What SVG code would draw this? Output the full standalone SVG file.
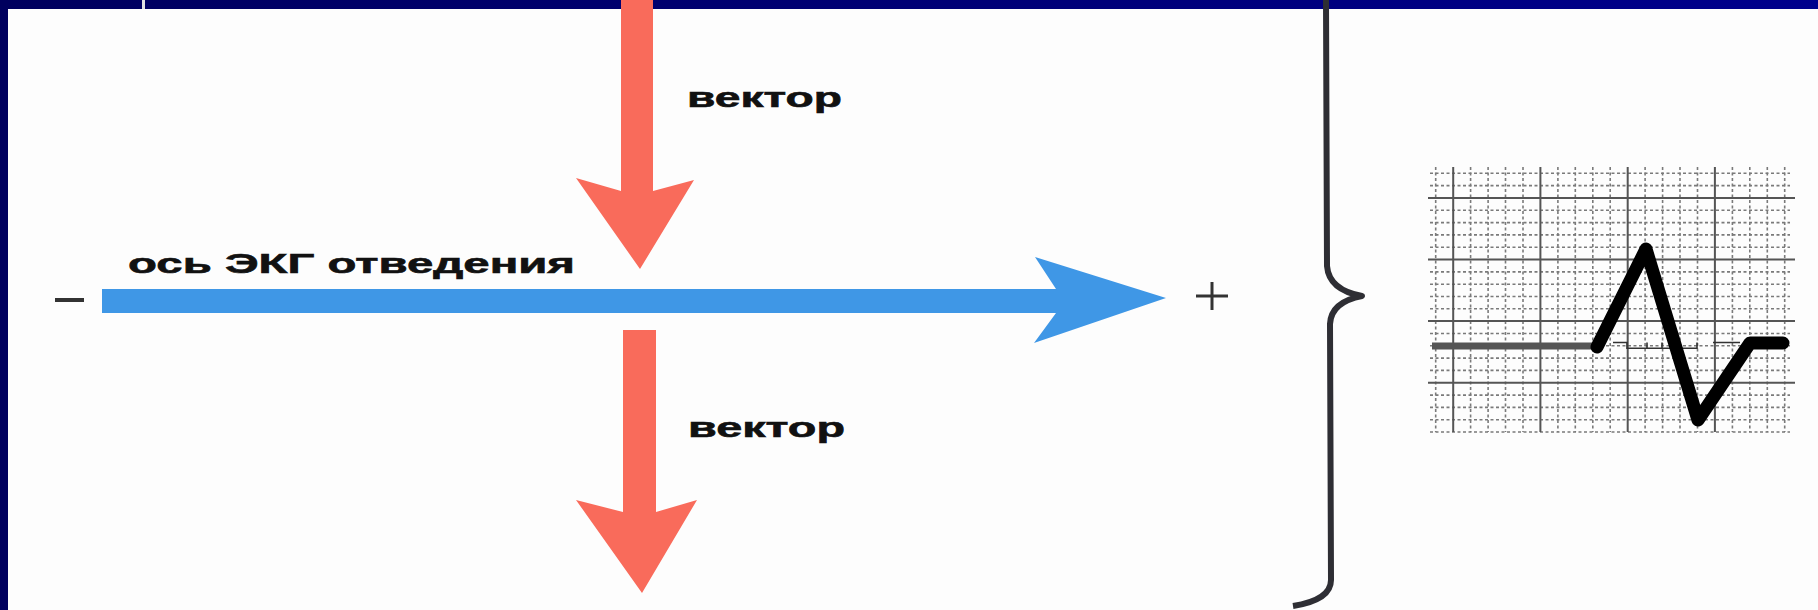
<svg xmlns="http://www.w3.org/2000/svg" width="1818" height="610" viewBox="0 0 1818 610">
<defs>
<linearGradient id="navy" x1="0" y1="0" x2="1" y2="0">
<stop offset="0" stop-color="#00005E"/>
<stop offset="1" stop-color="#00008C"/>
</linearGradient>
<style>
.lbl{font-family:"Liberation Sans",Arial,sans-serif;font-weight:bold;font-size:28px;fill:#111;stroke:#111;stroke-width:0.6}
.red{fill:#F96B5B}
.blue{fill:#3F97E6}
.sign{stroke:#333;stroke-width:3;fill:none}
.minor{stroke:#7a7a7a;stroke-width:1.6;stroke-dasharray:3 2.5;fill:none}
.major{stroke:#555;stroke-width:2;fill:none}
</style>
</defs>
<rect x="0" y="0" width="1818" height="610" fill="#fdfdfd"/>
<g id="frame">
<rect x="0" y="0" width="1818" height="9" fill="url(#navy)"/>
<rect x="0" y="0" width="8" height="610" fill="#00005E"/>
<rect x="142" y="0" width="3" height="9" fill="#e2e2e2"/>
</g>
<g id="connectors">
<polygon id="vector-top" class="red" points="621,0 621,191 576,178 640,269 694,180 653,191 653,0"/>
<polygon id="vector-bottom" class="red" points="623,330 623,512 576,500 642,593 697,500 656,512 656,330"/>
<polygon id="lead-axis" class="blue" points="102,289 1056,289 1035,257 1166,298 1034,343 1056,313 102,313"/>
</g>
<g id="label-axis">
<text class="lbl" x="128" y="273" textLength="447" lengthAdjust="spacingAndGlyphs">ось ЭКГ отведения</text>
</g>
<g id="label-vector-top">
<text class="lbl" x="687" y="107" textLength="155" lengthAdjust="spacingAndGlyphs">вектор</text>
</g>
<g id="label-vector-bottom">
<text class="lbl" x="688" y="437" textLength="157" lengthAdjust="spacingAndGlyphs">вектор</text>
</g>
<g id="minus">
<line x1="55" y1="300" x2="84" y2="300" stroke="#333" stroke-width="4"/>
</g>
<g id="plus">
<line class="sign" x1="1196" y1="296" x2="1228" y2="296"/>
<line class="sign" x1="1212" y1="282" x2="1212" y2="310"/>
</g>
<g id="brace">
<path d="M1326,0 L1327,266 Q1329,290 1362,296 Q1331,302 1330,324 L1331,580 Q1331,600 1293,606" fill="none" stroke="#2e2e34" stroke-width="6" stroke-linejoin="round"/>
</g>
<g id="ecg">
<path class="minor" d="M1435.7 167V432M1470.6 167V432M1488.1 167V432M1505.5 167V432M1523 167V432M1557.9 167V432M1575.3 167V432M1592.8 167V432M1610.2 167V432M1645.1 167V432M1662.6 167V432M1680 167V432M1697.5 167V432M1732.4 167V432M1749.8 167V432M1767.3 167V432M1784.7 167V432"/>
<path class="minor" d="M1430 173.3H1790M1430 185.6H1790M1430 210.3H1790M1430 222.6H1790M1430 234.9H1790M1430 247.2H1790M1430 271.9H1790M1430 284.2H1790M1430 296.5H1790M1430 308.8H1790M1430 333.5H1790M1430 345.8H1790M1430 358.1H1790M1430 370.4H1790M1430 395.1H1790M1430 407.4H1790M1430 419.7H1790M1430 432H1790"/>
<path class="major" d="M1453.2 167V432M1540.4 167V432M1627.7 167V432M1714.9 167V432M1428 197.9H1795M1428 259.5H1795M1428 321.1H1795M1428 382.7H1795"/>
<path d="M1613 342.5H1627V348.3H1697V342.5M1647 348.3V342.5M1662 348.3V342.5M1713 342.5H1740" fill="none" stroke="#333" stroke-width="1.6"/>
<line x1="1432" y1="346" x2="1598" y2="346" stroke="#555" stroke-width="7"/>
<path d="M1597,347 L1646,249 L1698,420 L1750,343 L1783,343" fill="none" stroke="#000" stroke-width="13" stroke-linejoin="round" stroke-linecap="round"/>
</g>
</svg>
